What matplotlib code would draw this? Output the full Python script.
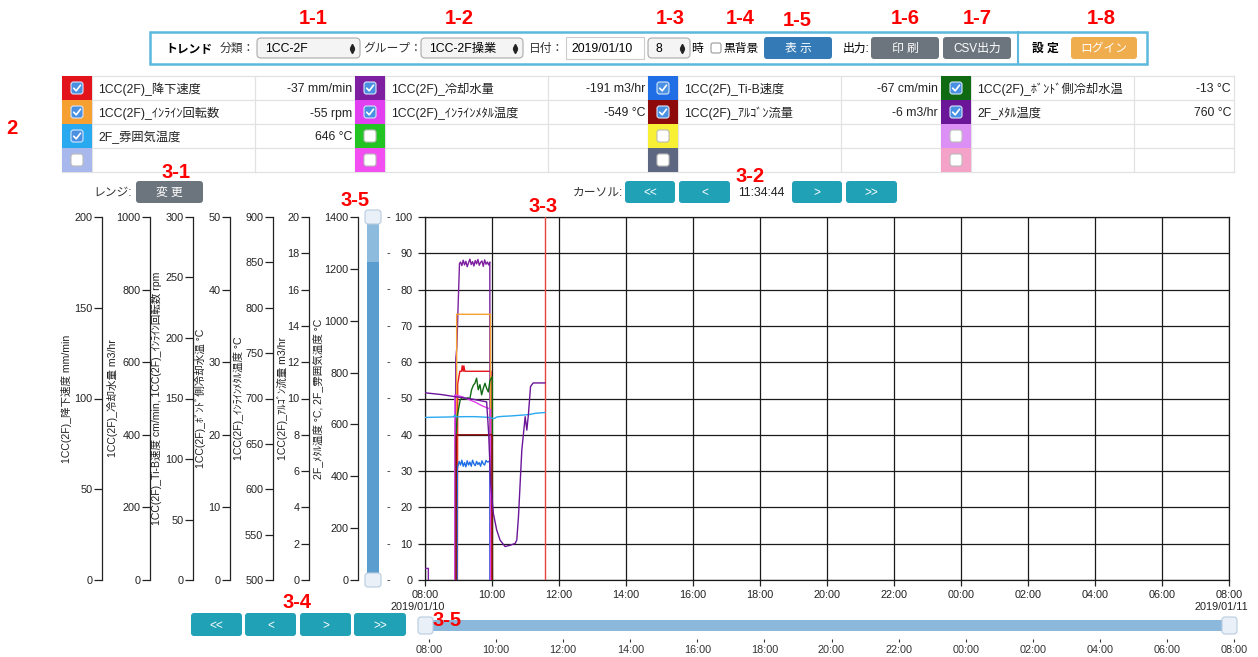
import matplotlib
matplotlib.use('Agg')
import matplotlib.pyplot as plt
from matplotlib.patches import Rectangle, FancyBboxPatch
from matplotlib.transforms import blended_transform_factory
import numpy as np

plt.rcParams['font.family'] = ['Liberation Sans', 'Noto Sans CJK JP', 'DejaVu Sans']
plt.rcParams['axes.unicode_minus'] = False

# ---------------- data ----------------
cursor_label = "11:34:44"
date_start = "2019/01/10"
date_end = "2019/01/11"
hour_ticks = [8, 10, 12, 14, 16, 18, 20, 22, 24, 26, 28, 30, 32]
hour_tick_labels = ["08:00", "10:00", "12:00", "14:00", "16:00", "18:00", "20:00",
                    "22:00", "00:00", "02:00", "04:00", "06:00", "08:00"]

# left scales
axis_ranges = [(0, 200), (0, 1000), (0, 300), (0, 50), (500, 900), (0, 20), (0, 1400)]
axis_steps = [50, 200, 50, 10, 50, 2, 200]
axis_labels = ["1CC(2F)_降下速度 mm/min",
               "1CC(2F)_冷却水量 m3/hr",
               "1CC(2F)_Ti-B速度 cm/min, 1CC(2F)_ｲﾝﾗｲﾝ回転数 rpm",
               "1CC(2F)_ﾎﾞﾝﾄﾞ側冷却水温 °C",
               "1CC(2F)_ｲﾝﾗｲﾝﾒﾀﾙ温度 °C",
               "1CC(2F)_ｱﾙｺﾞﾝ流量 m3/hr",
               "2F_ﾒﾀﾙ温度 °C, 2F_雰囲気温度 °C"]

# time in hours from 2019/01/10 00:00
t_kouka = [8.00, 8.965, 8.975, 9.04, 9.09, 9.11, 9.14, 9.16, 9.19, 9.97, 9.98, 11.58]
v_kouka = [-37, -37, 108, 115, 115, 118, 115, 118, 115, 115, -37, -37]

t_reik = [8.00, 8.10, 8.101, 8.88, 8.92, 8.95, 8.99, 9.03,
          9.06, 9.10, 9.14, 9.18, 9.22, 9.26, 9.30, 9.34, 9.38, 9.42, 9.46,
          9.50, 9.54, 9.58, 9.62, 9.66, 9.70, 9.74, 9.78, 9.82, 9.86, 9.90,
          9.935, 9.945, 11.58]
v_reik = [32, 32, -191, -191, 610, 640, 760, 872,
          876, 866, 881, 868, 878, 863, 874, 884, 869, 877, 865,
          880, 871, 883, 867, 875, 879, 864, 882, 870, 876, 868,
          876, -191, -191]

t_tib = [8.00, 8.955, 8.965,
         8.98, 9.02, 9.06, 9.10, 9.14, 9.18, 9.22, 9.26, 9.30, 9.34, 9.38, 9.42,
         9.46, 9.50, 9.54, 9.58, 9.62, 9.66, 9.70, 9.74, 9.78, 9.82, 9.86, 9.90,
         9.935, 9.945, 11.58]
v_tib = [-67, -67, 92,
         94, 98, 95, 99, 94, 97, 93.5, 98.5, 95, 97.5, 94, 99,
         96, 94.5, 98, 95.5, 97, 94, 98.5, 96, 95, 98.8, 97.5, 98,
         97, -67, -67]

t_rpm = [8.00, 8.94, 8.945, 9.955, 9.96, 11.58]
v_rpm = [-55, -55, 219.6, 219.6, -55, -55]

t_bond = [8.00, 8.89, 8.90, 8.96, 9.05, 9.12, 9.20, 9.28, 9.34, 9.39, 9.44, 9.49,
          9.54, 9.59, 9.64, 9.69, 9.74, 9.79, 9.84, 9.89, 9.94, 10.01, 10.02, 11.58]
v_bond = [-13, -13, 18.0, 22.5, 24.8, 25.2, 24.9, 25.1, 25.0, 26.2, 26.8, 27.1,
          27.8, 26.2, 26.9, 25.5, 26.4, 27.1, 26.4, 25.9, 27.5, 28.0, -13, -13]

t_inmetal = [8.00, 8.885, 8.89, 9.10, 9.30, 9.50, 9.70, 9.90, 9.955, 9.965, 11.58]
v_inmetal = [-549, -549, 704, 702, 699, 696, 692, 689, 688, -549, -549]

t_ar = [8.00, 8.925, 8.935, 10.00, 10.01, 11.58]
v_ar = [-6, -6, 8.0, 8.0, -6, -6]

t_metal = [8.00, 8.50, 8.90, 9.40, 9.84, 9.90, 9.96, 10.04, 10.14, 10.24, 10.39,
           10.54, 10.69, 10.74, 10.79, 10.89, 10.99, 11.04, 11.09, 11.15, 11.23, 11.58]
v_metal = [722, 715, 707, 698, 687, 566, 373, 257, 193, 154, 129,
           134, 141, 154, 244, 501, 630, 578, 643, 746, 760, 760]

t_atm = [8.00, 8.40, 8.85, 8.89, 8.92, 9.20, 9.50, 9.80, 9.95, 10.05, 10.15,
         10.30, 10.60, 10.90, 11.10, 11.30, 11.58]
v_atm = [627, 628, 629, 637, 629, 630, 630, 628, 626, 622, 629,
         631, 633, 636, 638, 643, 646]

series_name = ["1CC(2F)_降下速度", "1CC(2F)_ｲﾝﾗｲﾝ回転数", "2F_雰囲気温度",
               "1CC(2F)_冷却水量", "1CC(2F)_ｲﾝﾗｲﾝﾒﾀﾙ温度",
               "1CC(2F)_Ti-B速度", "1CC(2F)_ｱﾙｺﾞﾝ流量",
               "1CC(2F)_ﾎﾞﾝﾄﾞ側冷却水温", "2F_ﾒﾀﾙ温度"]
series_unit = ["mm/min", "rpm", "°C", "m3/hr", "°C", "cm/min", "m3/hr", "°C", "°C"]
series_color = ["#e3131b", "#f5a030", "#29a9f0", "#7d1fa0", "#e23ff0",
                "#1f6ee6", "#8e0a0a", "#0f6a12", "#6b1599"]
series_axis = [0, 2, 6, 1, 4, 2, 5, 3, 6]
series_t = [t_kouka, t_rpm, t_atm, t_reik, t_inmetal, t_tib, t_ar, t_bond, t_metal]
series_v = [v_kouka, v_rpm, v_atm, v_reik, v_inmetal, v_tib, v_ar, v_bond, v_metal]
series_slot = [(0, 0), (0, 1), (0, 2), (1, 0), (1, 1), (2, 0), (2, 1), (3, 0), (3, 1)]
empty_slot_color = {(0, 3): "#a9b8ec", (1, 2): "#22c322", (1, 3): "#f24ef2",
                    (2, 2): "#f7f034", (2, 3): "#5d6782", (3, 2): "#dc90f6",
                    (3, 3): "#f5a2c8"}

# ---------------- figure ----------------
W, H = 1258, 657
fig = plt.figure(figsize=(W / 100, H / 100), dpi=100)
fig.patch.set_facecolor('white')
bg = fig.add_axes([0, 0, 1, 1])
bg.set_xlim(0, W); bg.set_ylim(H, 0); bg.axis('off')

PX0, PX1, PY0, PY1 = 425, 1229, 217, 580
rect = [PX0 / W, 1 - PY1 / H, (PX1 - PX0) / W, (PY1 - PY0) / H]

hh, mm, ss = [int(p) for p in cursor_label.split(':')]
cursor_t = hh + mm / 60 + ss / 3600

DY = 1.0  # small downward nudge for UI text


def txt(x, y, s, **kw):
    kw.setdefault('va', 'center')
    kw.setdefault('fontsize', 8.5)
    bg.text(x, y + DY, s, **kw)


def rbox(x0, y0, x1, y1, fc, ec='none', lw=1.0, r=3, z=2):
    p = FancyBboxPatch((x0, y0), x1 - x0, y1 - y0,
                       boxstyle=f"round,pad=0,rounding_size={r}",
                       fc=fc, ec=ec, lw=lw, zorder=z)
    bg.add_patch(p)


def btn(x0, y0, x1, y1, label, fc, fs=8.5):
    rbox(x0, y0, x1, y1, fc)
    txt((x0 + x1) / 2, (y0 + y1) / 2, label, color='white', ha='center',
        fontsize=fs, zorder=3)


def checkbox(cx, cy, checked):
    if checked:
        rbox(cx - 6, cy - 6, cx + 6, cy + 6, '#4a90e2', ec='#d6e6fa', lw=0.8, r=2.5, z=4)
        bg.plot([cx - 3.3, cx - 0.8, cx + 3.5], [cy + 0.2, cy + 2.8, cy - 2.8],
                color='white', lw=1.2, zorder=5, solid_capstyle='round')
    else:
        rbox(cx - 6, cy - 6, cx + 6, cy + 6, 'white', ec='#bbbbbb', lw=0.8, r=2.5, z=4)


def dropdown(x0, x1, label):
    rbox(x0, 38, x1, 58, '#f4f4f4', ec='#aaaaaa', lw=0.8, r=4)
    txt(x0 + 8, 48, label, ha='left', fontsize=8.8, zorder=3)
    bg.plot([x1 - 8], [45.5], marker='^', ms=3, color='#222', zorder=3)
    bg.plot([x1 - 8], [50.5], marker='v', ms=3, color='#222', zorder=3)


# ---------------- header ----------------
bg.add_patch(Rectangle((150, 32), 997, 32, fc='white', ec='#5cb8dc', lw=1.8, zorder=1))
bg.plot([1018, 1018], [32, 64], color='#5cb8dc', lw=1.5, zorder=2)
HY = 48
txt(165, HY, "トレンド", ha='left', fontweight='bold')
txt(220, HY, "分類：", ha='left', color='#333')
dropdown(257, 360, "1CC-2F")
txt(363, HY, "グループ：", ha='left', color='#333')
dropdown(421, 523, "1CC-2F操業")
txt(529, HY, "日付：", ha='left', color='#333')
bg.add_patch(Rectangle((566, 37), 78, 22, fc='white', ec='#cccccc', lw=0.8, zorder=2))
txt(571, HY, date_start, ha='left', fontsize=8.8, zorder=3)
dropdown(648, 690, "8")
txt(691, HY, "時", ha='left')
rbox(711, 43, 721, 53, 'white', ec='#999999', lw=0.8, r=2)
txt(723, HY, "黒背景", ha='left')
btn(764, 37, 832, 59, "表 示", '#337ab7')
txt(843, HY, "出力:", ha='left')
btn(871, 37, 939, 59, "印 刷", '#6c757d')
btn(943, 37, 1011, 59, "CSV出力", '#6c757d')
txt(1032, HY, "設 定", ha='left', fontweight='bold')
btn(1071, 37, 1137, 59, "ログイン", '#f0ad4e')

# ---------------- legend table ----------------
TX0, GW = 62, 293.0
ROWS = [76, 100, 124, 148, 172]
grid_c = '#e2e2e2'
for g in range(4):
    s = TX0 + GW * g
    for r in range(4):
        y0, y1 = ROWS[r], ROWS[r + 1]
        if (g, r) in series_slot:
            i = series_slot.index((g, r))
            col = series_color[i]
            checked = True
        else:
            col = empty_slot_color[(g, r)]
            checked = False
        bg.add_patch(Rectangle((s, y0), 30, y1 - y0, fc=col, ec='none', zorder=2))
        checkbox(s + 15, (y0 + y1) / 2, checked)
        if checked:
            val = np.interp(cursor_t, series_t[i], series_v[i])
            txt(s + 36, (y0 + y1) / 2, series_name[i], ha='left', fontsize=8.8, color='#222')
            txt(s + 290, (y0 + y1) / 2 + 0.5, f"{val:.0f} {series_unit[i]}", ha='right',
                fontsize=8.8, color='#222')
    for xv in [s, s + 30, s + 193, s + GW]:
        bg.plot([xv, xv], [ROWS[0], ROWS[-1]], color=grid_c, lw=0.9, zorder=1)
for yv in ROWS:
    bg.plot([TX0, TX0 + 4 * GW], [yv, yv], color=grid_c, lw=0.9, zorder=1)

# ---------------- controls ----------------
teal = '#21a1b6'
txt(93, 192, "レンジ:", ha='left', color='#333')
btn(136, 181, 203, 203, "変 更", '#6c757d')
txt(573, 192, "カーソル:", ha='left', color='#333')
btn(625, 181, 675, 203, "<<", teal)
btn(679, 181, 730, 203, "<", teal)
txt(761, 192, cursor_label, ha='center', fontsize=8.8, color='#222')
btn(792, 181, 842, 203, ">", teal)
btn(846, 181, 897, 203, ">>", teal)

btn(191, 613, 242, 636, "<<", teal)
btn(245, 613, 296, 636, "<", teal)
btn(300, 613, 351, 636, ">", teal)
btn(354, 613, 406, 636, ">>", teal)

# vertical range slider
bg.add_patch(Rectangle((367, 222), 12, 40, fc='#8dbbdd', ec='none', zorder=2))
bg.add_patch(Rectangle((367, 262), 12, 314, fc='#5b9dcf', ec='none', zorder=2))
rbox(365, 210, 381, 224, '#e9f0f8', ec='#b8cce0', lw=0.8, r=3, z=3)
rbox(365, 573, 381, 587, '#e9f0f8', ec='#b8cce0', lw=0.8, r=3, z=3)

# horizontal range slider
bg.add_patch(Rectangle((425, 620), 804, 11, fc='#8cb9db', ec='none', zorder=2))
rbox(418, 617, 433, 634, '#e9f0f8', ec='#b8cce0', lw=0.8, r=3, z=3)
rbox(1222, 617, 1237, 634, '#e9f0f8', ec='#b8cce0', lw=0.8, r=3, z=3)

txt(418, 606, date_start, ha='center', fontsize=7.8, color='#222')
txt(1221, 606, date_end, ha='center', fontsize=7.8, color='#222')

# ---------------- main chart ----------------
ax = fig.add_axes(rect)
ax.set_facecolor('none')
ax.set_xlim(8, 32); ax.set_ylim(0, 100)
ax.set_xticks(hour_ticks); ax.set_xticklabels(hour_tick_labels)
ax.set_yticks(range(0, 101, 10))
ax.grid(True, color='#1a1a1a', lw=0.9)
for sp in ax.spines.values():
    sp.set_color('#1a1a1a'); sp.set_linewidth(0.9)
ax.tick_params(axis='x', length=4, width=0.9, labelsize=7.8, pad=3, colors='#222')
ax.tick_params(axis='y', length=5, width=0.9, labelsize=7.8, pad=4, colors='#222')
ax.axvline(cursor_t, color='#e8453c', lw=1.0, zorder=5)

tr = blended_transform_factory(bg.transData, ax.transData)
for yv in range(0, 101, 10):
    bg.text(388, yv, "-", transform=tr, ha='center', va='center', fontsize=7.8, color='#222')

axis_x = [102, 150, 193, 230, 273, 309, 358]
label_x = [67, 112, 157, 200, 238, 282, 318]
scale_axes = []
for (lo, hi), step, xa in zip(axis_ranges, axis_steps, axis_x):
    ov = fig.add_axes(rect)
    ov.set_xlim(8, 32); ov.set_ylim(lo, hi)
    ov.patch.set_visible(False)
    for k in ['top', 'right', 'bottom']:
        ov.spines[k].set_visible(False)
    ov.spines['left'].set_position(('outward', (PX0 - xa) * 0.72))
    ov.spines['left'].set_linewidth(0.9)
    ov.spines['left'].set_color('#222')
    ov.set_yticks(np.arange(lo, hi + step / 2, step))
    ov.set_xticks([])
    ov.tick_params(axis='y', length=5.8, width=0.9, labelsize=7.8, pad=1.2, colors='#222')
    scale_axes.append(ov)

for lab, lx in zip(axis_labels, label_x):
    bg.text(lx, (PY0 + PY1) / 2, lab, rotation=90, ha='center', va='center',
            fontsize=7.6, color='#222')

for t, v, ai, col in zip(series_t, series_v, series_axis, series_color):
    scale_axes[ai].plot(t, v, color=col, lw=1.0)

# slider tick labels
axs = fig.add_axes([429 / W, 1 - 639 / H, (1234 - 429) / W, 0.0001])
axs.set_xlim(8, 32)
axs.set_xticks(hour_ticks); axs.set_xticklabels(hour_tick_labels)
axs.set_yticks([])
axs.patch.set_visible(False)
for sp in axs.spines.values():
    sp.set_visible(False)
axs.tick_params(axis='x', length=2.5, width=0.8, labelsize=7.8, pad=2, colors='#333')

# ---------------- red annotations ----------------
fg = fig.add_axes([0, 0, 1, 1])
fg.set_xlim(0, W); fg.set_ylim(H, 0); fg.axis('off')
red_labels = [("1-1", 313, 18), ("1-2", 459, 18), ("1-3", 670, 18), ("1-4", 740, 18),
              ("1-5", 797, 20), ("1-6", 905, 18), ("1-7", 977, 18), ("1-8", 1101, 18),
              ("2", 12, 128), ("3-1", 176, 173), ("3-2", 750, 177), ("3-3", 543, 207),
              ("3-4", 297, 602), ("3-5", 355, 201), ("3-5", 447, 620)]
for s_, x, y in red_labels:
    fg.text(x, y, s_, ha='center', va='center', fontsize=14.5, fontweight='bold',
            color='#ff0000')

fig.savefig('out.png', dpi=100, facecolor='white')
